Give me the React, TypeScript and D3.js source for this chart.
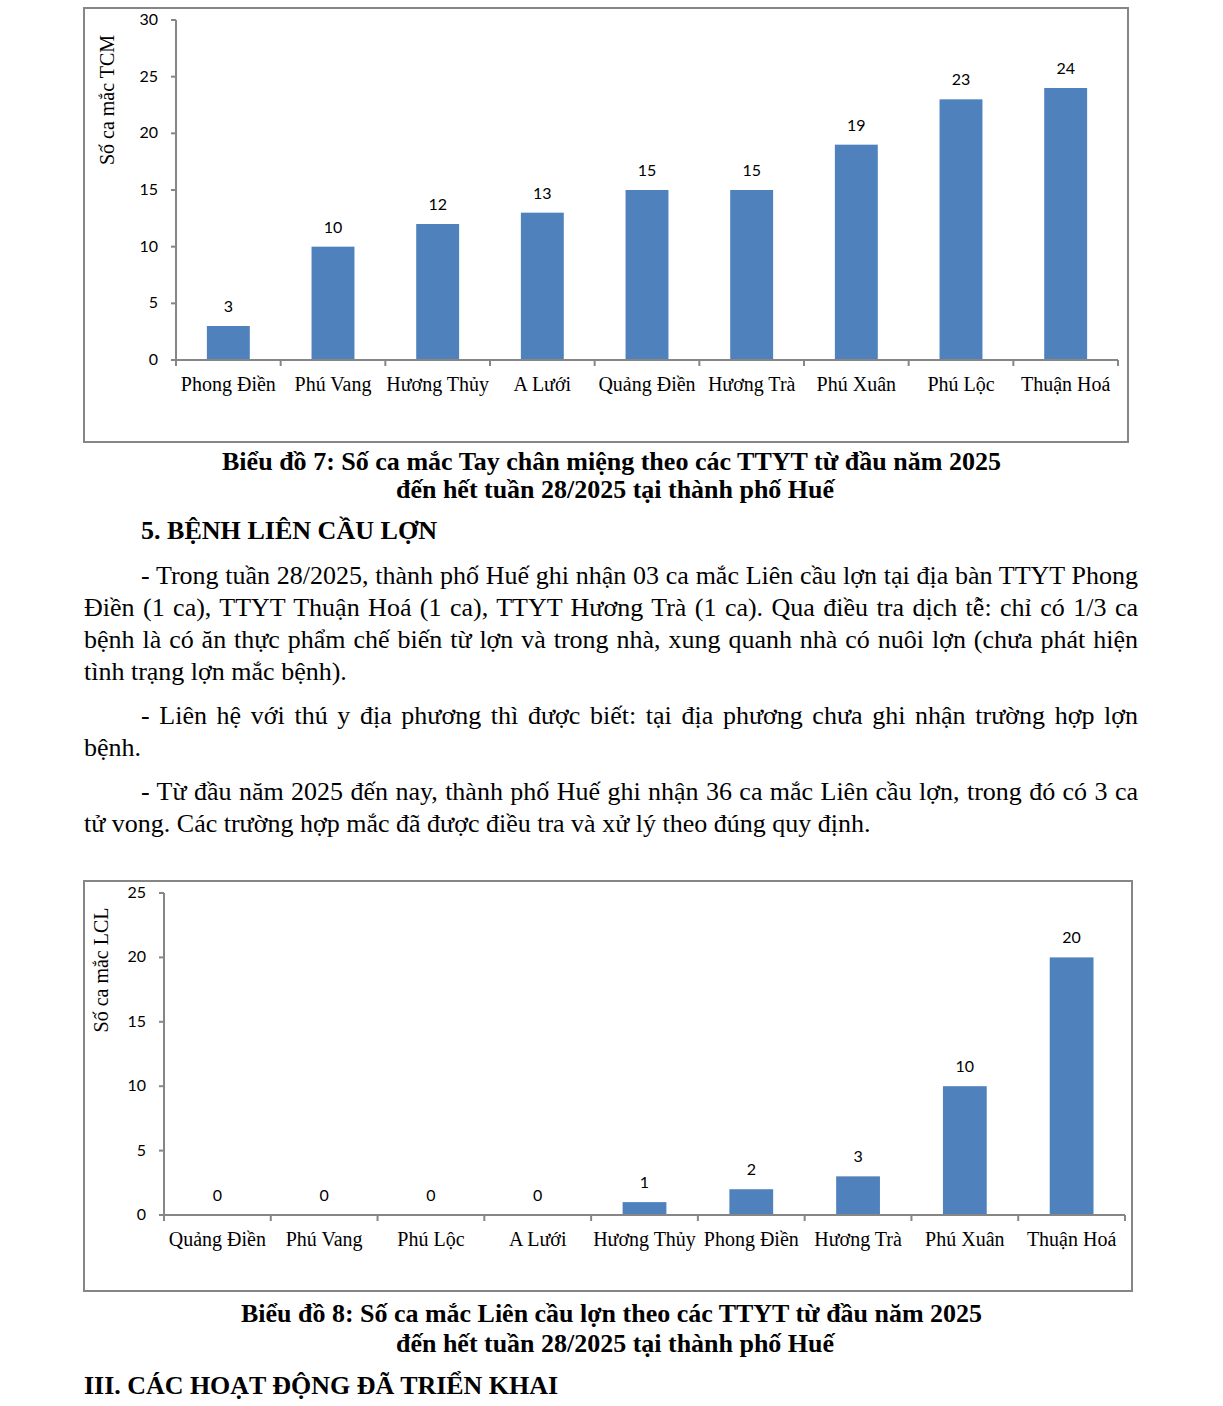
import { useLayoutEffect, useRef } from "react";
import * as d3 from "d3";

// Biểu đồ 7 - Tay chân miệng
const tcmDistricts = ["Phong Điền", "Phú Vang", "Hương Thủy", "A Lưới", "Quảng Điền", "Hương Trà", "Phú Xuân", "Phú Lộc", "Thuận Hoá"];
const tcmCases = [3, 10, 12, 13, 15, 15, 19, 23, 24];
const tcmTicks = [0, 5, 10, 15, 20, 25, 30];

// Biểu đồ 8 - Liên cầu lợn
const lclDistricts = ["Quảng Điền", "Phú Vang", "Phú Lộc", "A Lưới", "Hương Thủy", "Phong Điền", "Hương Trà", "Phú Xuân", "Thuận Hoá"];
const lclCases = [0, 0, 0, 0, 1, 2, 3, 10, 20];
const lclTicks = [0, 5, 10, 15, 20, 25];

const BAR = "#4F81BD";
const AXIS = "#868686";
const SERIF = "'Liberation Serif', 'Times New Roman', serif";
const SANS = "Lato, 'Liberation Sans', sans-serif";

type ChartProps = {
  frame: [number, number, number, number];
  x0: number; x1: number; yTop: number; yBase: number;
  max: number; ticks: number[]; cats: string[]; vals: number[];
  title: string; titleX: number; titleY: number;
};

function BarChart(p: ChartProps) {
  const x = d3.scaleBand<string>().domain(p.cats).range([p.x0, p.x1]).paddingInner(0.59).paddingOuter(0.295);
  const y = d3.scaleLinear().domain([0, p.max]).range([p.yBase, p.yTop]);
  const step = (p.x1 - p.x0) / p.cats.length;
  const bounds = d3.range(p.cats.length + 1).map((i) => p.x0 + i * step);
  const [fx, fy, fw, fh] = p.frame;
  return (
    <g>
      <rect x={fx} y={fy} width={fw} height={fh} fill="white" stroke={AXIS} strokeWidth={2} />
      <text transform={`translate(${p.titleX},${p.titleY}) rotate(-90)`} textAnchor="middle" fontFamily={SERIF} fontSize={20}>{p.title}</text>
      {p.ticks.map((t) => (
        <g key={t}>
          <line x1={p.x0 - 5} x2={p.x0} y1={y(t)} y2={y(t)} stroke={AXIS} strokeWidth={2} />
          <text x={p.x0 - 18} y={y(t) + 5} textAnchor="end" fontFamily={SANS} fontSize={16}>{t}</text>
        </g>
      ))}
      {p.cats.map((c, i) => (
        <g key={c}>
          <rect x={x(c)} y={y(p.vals[i])} width={x.bandwidth()} height={p.yBase - y(p.vals[i])} fill={BAR} />
          <text x={x(c)! + x.bandwidth() / 2} y={y(p.vals[i]) - 14} textAnchor="middle" fontFamily={SANS} fontSize={16}>{p.vals[i]}</text>
          <text x={x(c)! + x.bandwidth() / 2} y={p.yBase + 31} textAnchor="middle" fontFamily={SERIF} fontSize={20}>{c}</text>
        </g>
      ))}
      <line x1={p.x0} x2={p.x0} y1={p.yTop} y2={p.yBase} stroke={AXIS} strokeWidth={2} />
      <line x1={p.x0} x2={p.x1} y1={p.yBase} y2={p.yBase} stroke={AXIS} strokeWidth={2} />
      {bounds.map((b, i) => (
        <line key={i} x1={b} x2={b} y1={p.yBase} y2={p.yBase + 6} stroke={AXIS} strokeWidth={2} />
      ))}
    </g>
  );
}

// page text lines: [text, x, baseline, justified width or 0]
const bodyLines: [string, number, number, number][] = [
  ["- Trong tuần 28/2025, thành phố Huế ghi nhận 03 ca mắc Liên cầu lợn tại địa bàn TTYT Phong", 141, 584, 997],
  ["Điền (1 ca), TTYT Thuận Hoá (1 ca), TTYT Hương Trà (1 ca). Qua điều tra dịch tễ: chỉ có 1/3 ca", 84, 616, 1054],
  ["bệnh là có ăn thực phẩm chế biến từ lợn và trong nhà, xung quanh nhà có nuôi lợn (chưa phát hiện", 84, 648, 1054],
  ["tình trạng lợn mắc bệnh).", 84, 680, 0],
  ["- Liên hệ với thú y địa phương thì được biết: tại địa phương chưa ghi nhận trường hợp lợn", 141, 724, 997],
  ["bệnh.", 84, 756, 0],
  ["- Từ đầu năm 2025 đến nay, thành phố Huế ghi nhận 36 ca mắc Liên cầu lợn, trong đó có 3 ca", 141, 800, 997],
  ["tử vong. Các trường hợp mắc đã được điều tra và xử lý theo đúng quy định.", 84, 832, 0],
];

const boldLines: [string, number, number, number][] = [
  ["Biểu đồ 7: Số ca mắc Tay chân miệng theo các TTYT từ đầu năm 2025", 222, 470, 779],
  ["đến hết tuần 28/2025 tại thành phố Huế", 396, 498, 438],
  ["5. BỆNH LIÊN CẦU LỢN", 141, 539, 296],
  ["Biểu đồ 8: Số ca mắc Liên cầu lợn theo các TTYT từ đầu năm 2025", 241, 1322, 741],
  ["đến hết tuần 28/2025 tại thành phố Huế", 396, 1352, 438],
  ["III. CÁC HOẠT ĐỘNG ĐÃ TRIỂN KHAI", 84, 1394, 474],
];

// justified line: word spacing is set straight on the node after measuring
function BodyLine({ text, x, y, width }: { text: string; x: number; y: number; width: number }) {
  const ref = useRef<SVGTextElement>(null);
  const cur = useRef(0);
  useLayoutEffect(() => {
    if (!width) return;
    const gaps = text.split(" ").length - 1;
    const fit = () => {
      const el = ref.current;
      if (!el) return;
      const nat = el.getComputedTextLength() - gaps * cur.current;
      cur.current = (width - nat) / gaps;
      el.style.wordSpacing = `${cur.current}px`;
    };
    fit();
    document.fonts?.ready.then(fit);
  }, [text, width]);
  return (
    <text ref={ref} x={x} y={y} fontFamily={SERIF} fontSize={26}>{text}</text>
  );
}

export default function App() {
  return (
    <svg width={1223} height={1406} style={{ position: "absolute", left: 0, top: 0, background: "white" }}>
      <rect width={1223} height={1406} fill="white" />
      <BarChart frame={[84, 8, 1044, 434]} x0={176} x1={1118} yTop={20} yBase={360} max={30} ticks={tcmTicks}
        cats={tcmDistricts} vals={tcmCases} title="Số ca mắc TCM" titleX={114} titleY={100} />
      <BarChart frame={[84, 881, 1048, 410]} x0={164} x1={1125} yTop={893} yBase={1215} max={25} ticks={lclTicks}
        cats={lclDistricts} vals={lclCases} title="Số ca mắc LCL" titleX={108} titleY={970} />
      {boldLines.map(([t, x, y, w]) => (
        <text key={t + y} x={x} y={y} fontFamily={SERIF} fontWeight="bold" fontSize={26} textLength={w} lengthAdjust="spacingAndGlyphs">{t}</text>
      ))}
      {bodyLines.map(([t, x, y, w]) => (
        <BodyLine key={t} text={t} x={x} y={y} width={w} />
      ))}
    </svg>
  );
}
